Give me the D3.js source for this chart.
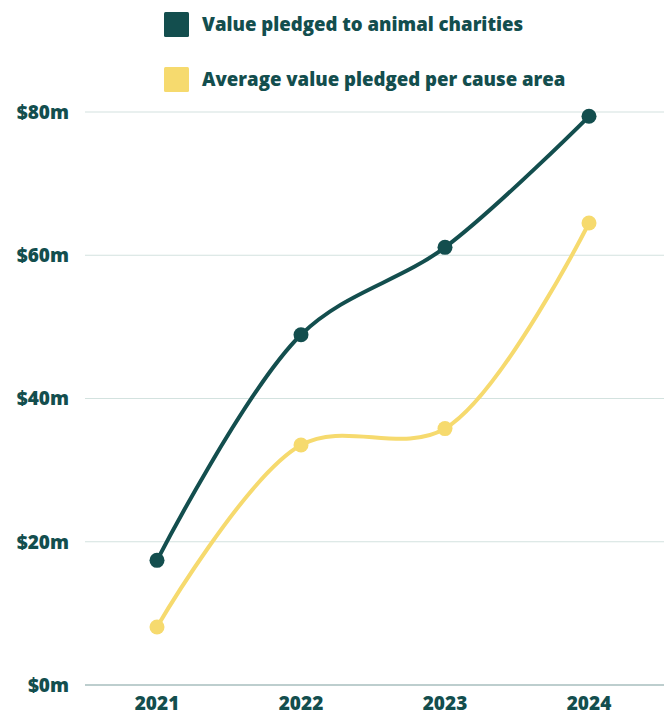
<!DOCTYPE html>
<html lang="en">
<head>
  <meta charset="UTF-8">
  <title>Animal charities pledges</title>
  <style>
    body {
      margin: 0;
      background: #fff;
      font-family: "Open Sans", sans-serif;
    }
    svg {
      display: block;
    }
    .grid line {
      stroke: #d3e2df;
      stroke-width: 1.2;
    }
    .grid .baseline {
      stroke: #7c9e9e;
    }
    .label {
      fill: #134e4e;
      font-weight: 800;
      font-size: 19px;
    }
    .legend text {
      fill: #134e4e;
      font-weight: 800;
      font-size: 18.6px;
    }
  </style>
  <script src="https://cdn.jsdelivr.net/npm/d3@7"></script>
</head>
<body>
  <div id="chart"></div>
  <script>
/* global d3 */

var years = ["2021", "2022", "2023", "2024"];
var animalValues = [17.4, 48.9, 61.1, 79.4];
var averageValues = [8.1, 33.5, 35.8, 64.5];
var yTicks = [0, 20, 40, 60, 80];
var seriesNames = ["Value pledged to animal charities", "Average value pledged per cause area"];
var seriesColors = ["#134e4e", "#f6da6e"];

var width = 664,
  height = 715,
  margin = {top: 112, right: 3, bottom: 30, left: 85};

var svg = d3.select("#chart")
  .append("svg")
  .attr("width", width)
  .attr("height", height);

var x = d3.scalePoint()
  .domain(years)
  .range([margin.left, width - margin.right])
  .padding(0.5);

var y = d3.scaleLinear()
  .domain([0, 80])
  .range([height - margin.bottom, margin.top]);

// gridlines
var grid = svg.append("g").attr("class", "grid");
grid.selectAll("line")
  .data(yTicks)
  .enter()
  .append("line")
  .attr("class", function (d) { return d === 0 ? "baseline" : null; })
  .attr("x1", margin.left)
  .attr("x2", width)
  .attr("y1", function (d) { return y(d); })
  .attr("y2", function (d) { return y(d); });

// y labels
svg.append("g")
  .selectAll("text")
  .data(yTicks)
  .enter()
  .append("text")
  .attr("class", "label")
  .attr("x", margin.left - 16)
  .attr("y", function (d) { return y(d); })
  .attr("dy", "0.36em")
  .attr("text-anchor", "end")
  .text(function (d) { return "$" + d + "m"; });

// x labels
svg.append("g")
  .selectAll("text")
  .data(years)
  .enter()
  .append("text")
  .attr("class", "label")
  .attr("x", function (d) { return x(d); })
  .attr("y", y(0) + 25)
  .attr("text-anchor", "middle")
  .text(function (d) { return d; });

var line = d3.line()
  .x(function (d, i) { return x(years[i]); })
  .y(function (d) { return y(d); })
  .curve(d3.curveCatmullRom);

var series = [averageValues, animalValues];
var colors = [seriesColors[1], seriesColors[0]];

series.forEach(function (vals, k) {
  var g = svg.append("g");
  g.append("path")
    .datum(vals)
    .attr("d", line)
    .attr("fill", "none")
    .attr("stroke", colors[k])
    .attr("stroke-width", 4)
    .attr("stroke-linecap", "round");
  g.selectAll("circle")
    .data(vals)
    .enter()
    .append("circle")
    .attr("cx", function (d, i) { return x(years[i]); })
    .attr("cy", function (d) { return y(d); })
    .attr("r", 7.5)
    .attr("fill", colors[k]);
});

// legend
var legend = svg.append("g")
  .attr("class", "legend")
  .selectAll("g")
  .data(seriesNames)
  .enter()
  .append("g")
  .attr("transform", function (d, i) { return "translate(164," + (12 + i * 55) + ")"; });

legend.append("rect")
  .attr("width", 25)
  .attr("height", 25)
  .attr("rx", 1.5)
  .attr("fill", function (d, i) { return seriesColors[i]; });

legend.append("text")
  .attr("x", 38)
  .attr("y", 12.5)
  .attr("dy", "0.35em")
  .text(function (d) { return d; });

  </script>
</body>
</html>
